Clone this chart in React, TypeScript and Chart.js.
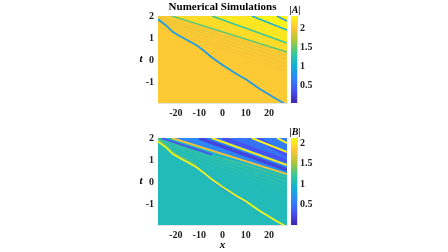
import React, { useEffect, useRef } from "react";
import { Chart, registerables } from "chart.js";

Chart.register(...registerables);

const title = "Numerical Simulations";
const xRange = [-27.7, 27.7];
const tRange = [-1.95, 2];
const xTicks = [-20, -10, 0, 10, 20];
const tTicks = [-1, 0, 1, 2];
const barTicks = [0.5, 1, 1.5, 2];
const rangeA = [0.03, 2.32];
const rangeB = [0.01, 2.12];

const parula = ["#3e26a8", "#4752f4", "#2d87f7", "#12b1d6", "#37c897", "#abc739", "#fec338", "#f9fb15"];

const mainX = [-27.7, -24, -21.3, -18, -15, -11, -8, -4.8, 0, 5.9, 10.2, 15.9, 21.7, 26.7];
const mainT = [1.85, 1.55, 1.27, 1.07, 0.9, 0.66, 0.42, 0.14, -0.22, -0.62, -0.88, -1.3, -1.68, -1.98];

const solitonStartX = [-21.7, -4.5, 12.6, 23.4];
const solitonStartT = [2, 2, 2, 2];
const solitonEndT = [0.36, 0.77, 1.36, 1.77];
const solitonA = [1.45, 1.3, 1.0, 0.85];
const solitonB = [1.8, 2.05, 2.1, 2.12];

const zoneA = [2.14, 2.2, 2.27];
const zoneB = [0.62, 0.5, 0.55];

const darkStartX = [-10, 0.2, 15.2];
const darkStartT = [2, 2, 2];
const darkEndT = [0.55, 0.95, 1.2];
const darkB = [0.22, 0.3, 0.3];

const rippleStartT = [1.97, 1.88, 1.78, 1.66, 1.54];
const rippleEndT = [0.2, 0.02, -0.16, -0.34, -0.52];
const rippleA = [1.86, 1.88, 1.9, 1.92, 1.95];
const rippleB = [1.32, 1.25, 1.2, 1.16, 1.12];

const fadeX = [-26.3, -4.5];
const fadeT = [2, 1.25];
const fadeTailEndT = 0.46;

const rightEdge = xRange[1];
const serif = "'Liberation Serif', serif";

function toColor(value: number, range: number[]) {
  const f = Math.min(1, Math.max(0, (value - range[0]) / (range[1] - range[0]))) * (parula.length - 1);
  const i = Math.min(parula.length - 2, Math.floor(f));
  const hex = (s: string, k: number) => parseInt(s.slice(1 + 2 * k, 3 + 2 * k), 16);
  const part = (k: number) => Math.round(hex(parula[i], k) + (hex(parula[i + 1], k) - hex(parula[i], k)) * (f - i));
  return `rgb(${part(0)},${part(1)},${part(2)})`;
}

function line(points: { x: number; y: number }[], color: string, width: number, fill: any = false) {
  return { type: "line", data: points, borderColor: color, borderWidth: width, pointRadius: 0, fill, backgroundColor: color, tension: 0, parsing: false };
}

function fieldDatasets(which: "A" | "B") {
  const range = which === "A" ? rangeA : rangeB;
  const sol = which === "A" ? solitonA : solitonB;
  const zone = which === "A" ? zoneA : zoneB;
  const ripple = which === "A" ? rippleA : rippleB;
  const base = which === "A" ? 2.03 : 1.05;
  const out: any[] = [];
  out.push(line([{ x: xRange[0], y: tRange[0] }, { x: xRange[1], y: tRange[0] }], toColor(base, range), 0, "end"));
  ripple.forEach((v, i) => {
    out.push(line([{ x: xRange[0], y: rippleStartT[i] }, { x: rightEdge, y: rippleEndT[i] }], toColor(v, range), 0.8));
  });
  zone.forEach((v, i) => {
    out.push(line([{ x: solitonStartX[i], y: solitonStartT[i] }, { x: rightEdge, y: solitonEndT[i] }], toColor(v, range), 0, "end"));
  });
  if (which === "B") {
    out.push(line([{ x: fadeX[0], y: fadeT[0] }, { x: fadeX[1], y: fadeT[1] }], toColor(0.35, range), 2));
    out.push(line([{ x: fadeX[1], y: fadeT[1] }, { x: rightEdge, y: fadeTailEndT }], toColor(0.85, range), 1));
    darkB.forEach((v, i) => {
      out.push(line([{ x: darkStartX[i], y: darkStartT[i] }, { x: rightEdge, y: darkEndT[i] }], toColor(v, range), 3.5));
    });
  }
  sol.forEach((v, i) => {
    out.push(line([{ x: solitonStartX[i], y: solitonStartT[i] }, { x: rightEdge, y: solitonEndT[i] }], toColor(v, range), which === "B" ? 1.9 : 1.5));
  });
  const main = mainX.map((x, i) => ({ x, y: mainT[i] }));
  if (which === "B") {
    out.push(line(main.slice(0, 6).map((p) => ({ x: p.x, y: p.y + 0.09 })), toColor(1.45, range), 1));
    out.push(line(main.slice(6, 11).map((p) => ({ x: p.x, y: p.y - 0.05 })), toColor(0.5, range), 1));
    out.push(line(main, toColor(2.1, range), 1.7));
  } else {
    out.push(line(main, toColor(0.85, range), 1.8));
  }
  return out.map((d, i) => ({ ...d, order: out.length - i }));
}

function HeatPanel({ which, top }: { which: "A" | "B"; top: number }) {
  const ref = useRef<HTMLCanvasElement>(null);
  useEffect(() => {
    const showTitle = which === "A";
    const chart = new Chart(ref.current!, {
      type: "line",
      data: { datasets: fieldDatasets(which) },
      options: {
        animation: false,
        responsive: false,
        layout: { padding: { top: showTitle ? 0 : 12, right: 161 } },
        plugins: {
          legend: { display: false },
          tooltip: { enabled: false },
          title: {
            display: showTitle,
            text: title,
            fullSize: false,
            color: "#000",
            font: { family: serif, size: 11, weight: "bold", lineHeight: 1 },
            padding: { top: 2, bottom: 3 },
          },
        },
        scales: {
          x: {
            type: "linear",
            min: xRange[0],
            max: xRange[1],
            afterBuildTicks: (s: any) => { s.ticks = xTicks.map((value) => ({ value })); },
            afterFit: (s: any) => { s.height = which === "A" ? 23 : 27; },
            grid: { display: false, drawTicks: false },
            border: { color: "#e4e4e4" },
            ticks: { color: "#222", maxRotation: 0, padding: 4, font: { family: serif, size: 10, weight: "bold" } },
            title: { display: which === "B", text: "x", color: "#000", padding: { top: 3, bottom: 0 }, font: { family: serif, size: 11, weight: "bold", style: "italic" } },
          },
          y: {
            type: "linear",
            min: tRange[0],
            max: tRange[1],
            afterBuildTicks: (s: any) => { s.ticks = tTicks.map((value) => ({ value })); },
            afterFit: (s: any) => { s.width = 158; },
            grid: { display: false, drawTicks: false },
            border: { color: "#e4e4e4" },
            ticks: { color: "#222", padding: 4, font: { family: serif, size: 10, weight: "bold" } },
            title: { display: false },
          },
        },
      } as any,
      plugins: [{
        id: "tLabel",
        afterDraw(c: any) {
          const ctx = c.ctx;
          ctx.save();
          ctx.font = `italic bold 11px ${serif}`;
          ctx.fillStyle = "#000";
          ctx.textAlign = "center";
          ctx.textBaseline = "middle";
          ctx.fillText("t", 141, (c.chartArea.top + c.chartArea.bottom) / 2);
          ctx.restore();
        },
      }],
    });
    return () => chart.destroy();
  }, []);
  return <canvas ref={ref} width={448} height={126} style={{ position: "fixed", left: 0, top, width: 448, height: 126 }} />;
}

function ColorBar({ which, top }: { which: "A" | "B"; top: number }) {
  const ref = useRef<HTMLCanvasElement>(null);
  useEffect(() => {
    const range = which === "A" ? rangeA : rangeB;
    const chart = new Chart(ref.current!, {
      type: "bar",
      data: {
        labels: [which],
        datasets: [{
          data: [range as any],
          barPercentage: 1,
          categoryPercentage: 1,
          borderWidth: 0,
          backgroundColor: (c: any) => {
            const area = c.chart.chartArea;
            if (!area) return parula[0];
            const g = c.chart.ctx.createLinearGradient(0, area.bottom, 0, area.top);
            parula.forEach((col, i) => g.addColorStop(i / (parula.length - 1), col));
            return g;
          },
        }],
      },
      options: {
        animation: false,
        responsive: false,
        layout: { padding: { left: 291, top: which === "A" ? 16 : 12, bottom: which === "A" ? 23 : 27 } },
        plugins: { legend: { display: false }, tooltip: { enabled: false } },
        scales: {
          x: { display: false },
          y: {
            position: "right",
            min: range[0],
            max: range[1],
            afterBuildTicks: (s: any) => { s.ticks = barTicks.map((value) => ({ value })); },
            afterFit: (s: any) => { s.width = 151; },
            grid: { display: false, drawTicks: false },
            border: { color: "#d8d8d8" },
            ticks: { color: "#222", padding: 3, font: { family: serif, size: 10, weight: "bold" }, callback: (v: any) => String(v) },
          },
        },
      } as any,
      plugins: [{
        id: "barLabel",
        afterDraw(c: any) {
          const ctx = c.ctx;
          ctx.save();
          ctx.font = `italic bold 10px ${serif}`;
          ctx.fillStyle = "#000";
          ctx.textAlign = "center";
          ctx.textBaseline = "alphabetic";
          ctx.fillText(`|${which}|`, 295, c.chartArea.top - 3);
          ctx.restore();
        },
      }],
    });
    return () => chart.destroy();
  }, []);
  return <canvas ref={ref} width={448} height={126} style={{ position: "fixed", left: 0, top, width: 448, height: 126 }} />;
}

export default function App() {
  return (
    <div>
      <HeatPanel which="A" top={0} />
      <ColorBar which="A" top={0} />
      <HeatPanel which="B" top={126} />
      <ColorBar which="B" top={126} />
    </div>
  );
}
